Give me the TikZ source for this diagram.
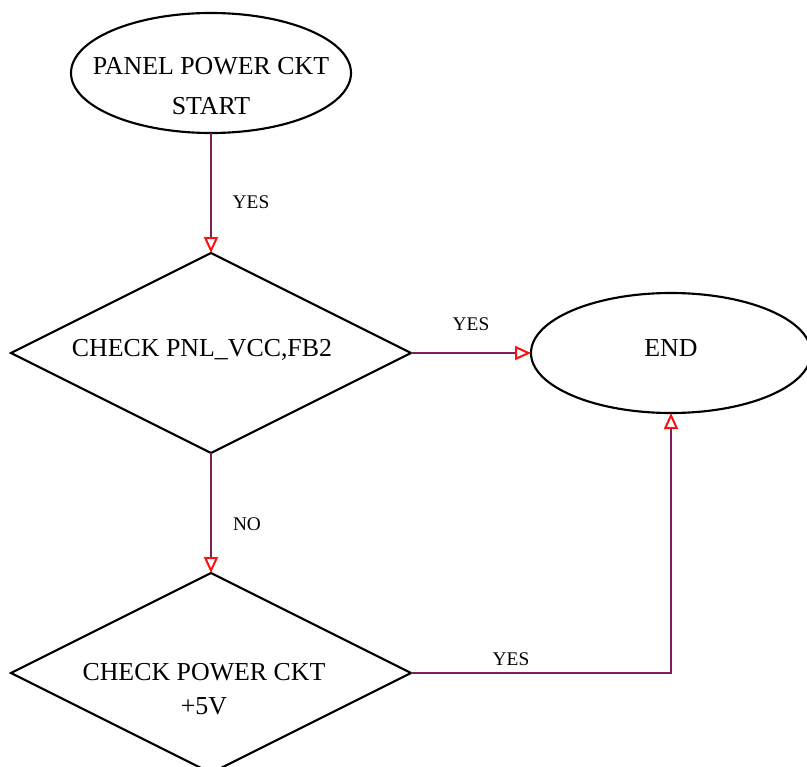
\documentclass[tikz,border=0pt]{standalone}
\usepackage{fontspec}
\setmainfont{Liberation Serif}
\usetikzlibrary{arrows.meta, positioning, calc, shapes.geometric}
\definecolor{wireColor}{HTML}{7F1D5A}
\definecolor{tipColor}{HTML}{FF1010}
\def\boxFont{\fontsize{19.4}{25}\selectfont}
\def\tagFont{\fontsize{14.5}{17}\selectfont}

\begin{document}
\begin{tikzpicture}[x=0.75pt, y=0.75pt,
    term/.style={ellipse, draw=black, line width=1.6pt,
                 minimum width=210pt, minimum height=90pt,
                 inner sep=0pt, outer sep=0pt},
    test/.style={diamond, draw=black, line width=1.6pt,
                 minimum width=300pt, minimum height=150pt,
                 inner sep=0pt, outer sep=0pt},
    txt/.style={font=\boxFont, align=center, inner sep=0pt},
    tag/.style={font=\tagFont, inner sep=0pt, anchor=base},
    wire/.style={wireColor, line width=1.7pt,
                 -{Triangle[open, length=12pt, width=10.5pt,
                            color=tipColor, line width=1.5pt]}}]

    % ==========================================================
    % 1. PAGE FRAME (reference proportions)
    % ==========================================================
    \useasboundingbox (0,0) rectangle (807,-767);
    \clip (0,0) rectangle (807,-767);

    % ==========================================================
    % 2. SHAPES
    % ==========================================================
    \node[term] (start)   at (211,-73)  {};
    \node[test] (chk1)    at (211,-353) {};
    \node[term] (endnode) at (671,-353) {};
    \node[test] (chk2)    at (211,-673) {};

    % Texts inside the shapes
    \node[txt, font=\fontsize{19.4}{30}\selectfont] (startTxt)
        at (211,-86) {PANEL POWER CKT\\START};
    \node[txt, anchor=base] (chk1Txt) at (202,-356) {CHECK PNL\_VCC,FB2};
    \node[txt, anchor=base] (endTxt)  at (671,-356) {END};
    \node[txt] (chk2Txt) at (204,-689) {CHECK POWER CKT\\+5V};

    % ==========================================================
    % 3. CONNECTORS
    % ==========================================================
    \draw[wire] (start.south) -- (chk1.north);
    \draw[wire] (chk1.east) -- (endnode.west);
    \draw[wire] (chk1.south) -- (chk2.north);
    \draw[wire] (chk2.east) -| (endnode.south);

    % Connector labels
    \node[tag] (yesA) at (251,-208) {YES};
    \node[tag] (yesB) at (471,-330) {YES};
    \node[tag] (noA)  at (247,-530) {NO};
    \node[tag] (yesC) at (511,-665) {YES};

\end{tikzpicture}
\end{document}
